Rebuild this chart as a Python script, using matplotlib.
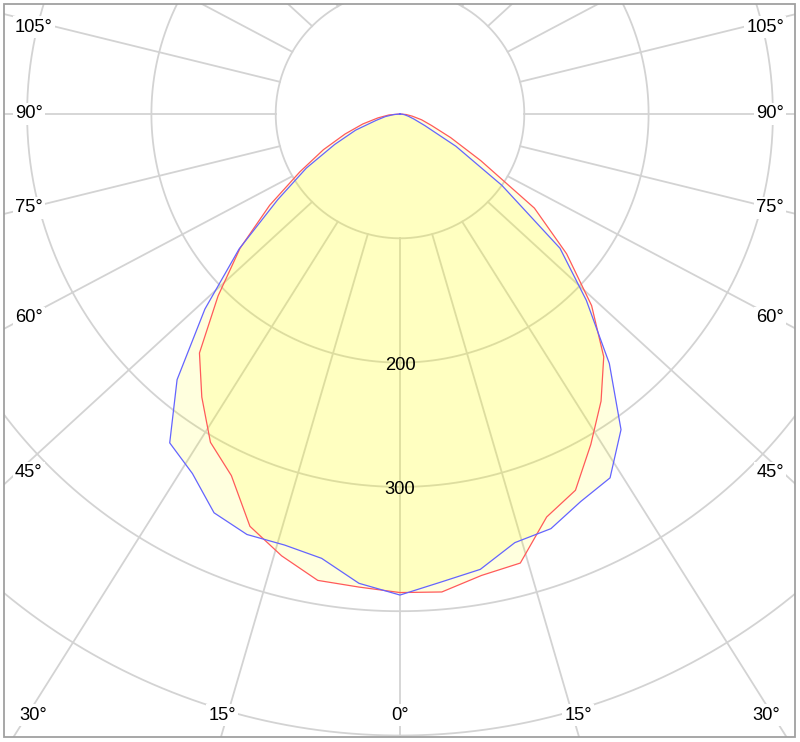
import numpy as np
import matplotlib
matplotlib.use('Agg')
import matplotlib.pyplot as plt
from matplotlib.patches import Rectangle

# luminous intensity (cd) every 5 deg, 0 = straight down, + = right
angles = [-90, -85, -80, -75, -70, -65, -60, -55, -50, -45, -40, -35, -30, -25,
          -20, -15, -10, -5, 0, 5, 10, 15, 20, 25, 30, 35, 40, 45, 50, 55, 60,
          65, 70, 75, 80, 85, 90]
red_cd = [0, 9, 18, 31, 47, 68, 93, 128, 168, 207, 251, 278, 305, 321, 353, 368,
          381, 382, 385, 386, 377, 374, 345, 334, 307, 282, 255, 218, 175, 132,
          75, 45, 27, 18, 10, 5, 0]
blue_cd = [0, 5, 12, 20, 38, 58, 87, 120, 169, 222, 279, 323, 334, 354, 360, 359,
           363, 379, 387, 378, 372, 357, 355, 344, 338, 310, 262, 212, 168, 100,
           52, 22, 12, 7, 4, 2, 0]

ring_values = [100, 200, 300, 400, 500, 600]
ring_labels = ['200', '300']
side_labels = ['105°', '90°', '75°', '60°', '45°']
bottom_labels = ['30°', '15°', '0°', '15°', '30°']

W, H = 800, 742
cx, cy = 400, 114        # pole, pixels from top left
px_per_cd = 1.243
rmax = 620
R = rmax * px_per_cd

fig = plt.figure(figsize=(W / 100, H / 100), dpi=100)
ax = fig.add_axes([(cx - R) / W, (H - cy - R) / H, 2 * R / W, 2 * R / H],
                  projection='polar')
ax.set_theta_zero_location('S')
ax.set_ylim(0, rmax)
ax.set_axis_off()

grid_col = '#d3d3d3'
t = np.linspace(0, 2 * np.pi, 721)
for rv in ring_values:
    ax.plot(t, np.full_like(t, rv), color=grid_col, lw=1.3, zorder=1)

# spokes start at the inner ring; outer end slightly squashed like the original
k = 0.93
for a in range(0, 360, 15):
    th = np.radians(a)
    th_out = np.arctan2(np.sin(th), k * np.cos(th))
    ax.plot([th, th_out], [100, rmax], color=grid_col, lw=1.3, zorder=1)

th = np.radians(angles)
ax.fill(th, red_cd, color='#ffff00', alpha=0.13, lw=0, zorder=2)
ax.fill(th, blue_cd, color='#ffff00', alpha=0.13, lw=0, zorder=2)
ax.plot(th, red_cd, color='#ff5a5a', lw=0.9, zorder=3)
ax.plot(th, blue_cd, color='#6464ff', lw=0.9, zorder=3)

fs = 13.2
for i, lab in enumerate(ring_labels):
    ax.text(0, ring_values[i + 1] + 2, lab, ha='center', va='center',
            fontsize=fs, family='Liberation Sans', zorder=4)

clip = Rectangle((4 / W, 5 / H), 791 / W, 733 / H, transform=fig.transFigure)
for art in ax.lines + ax.patches:
    art.set_clip_path(clip)

box = dict(boxstyle='square,pad=0.12', fc='white', ec='none')
side_y = [27, 114, 208, 318, 473]
for lab, y in zip(side_labels, side_y):
    fig.text(15 / W, 1 - y / H, lab, ha='left', va='center', fontsize=fs,
             family='Liberation Sans', bbox=box)
    fig.text(784 / W, 1 - y / H, lab, ha='right', va='center', fontsize=fs,
             family='Liberation Sans', bbox=box)
bottom_x = [33, 222, 400, 578, 766]
for lab, x in zip(bottom_labels, bottom_x):
    fig.text(x / W, 1 - 715 / H, lab, ha='center', va='center', fontsize=fs,
             family='Liberation Sans', bbox=box)

fig.add_artist(Rectangle((4 / W, 5 / H), 791 / W, 733 / H, transform=fig.transFigure,
                         fill=False, ec='#a0a0a0', lw=1.3))

fig.savefig('out.png', dpi=100, facecolor='white')
